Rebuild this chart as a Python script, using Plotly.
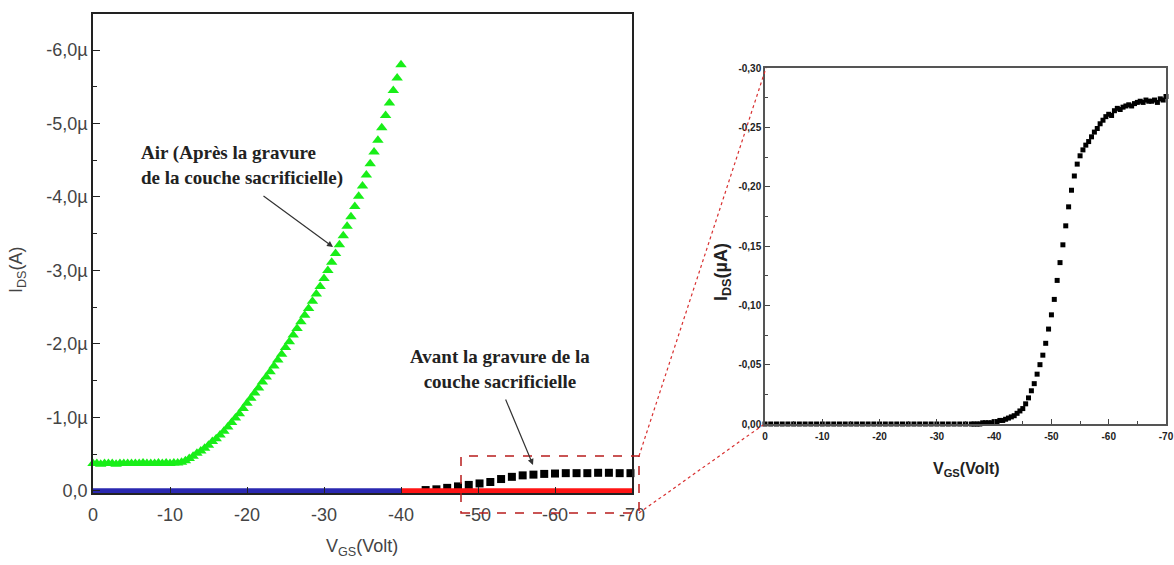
import plotly.graph_objects as go

W, H = 1174, 565

# Left panel: "Air" curve (green triangles), I_DS in µA
vgs_air = [0, -0.5, -1, -1.5, -2, -2.5, -3, -3.5, -4, -4.5, -5, -5.5, -6, -6.5, -7, -7.5, -8, -8.5, -9, -9.5,
           -10, -10.5, -11, -11.5, -12, -12.5, -13, -13.5, -14, -14.5, -15, -15.5, -16, -16.5, -17, -17.5,
           -18, -18.5, -19, -19.5, -20, -20.5, -21, -21.5, -22, -22.5, -23, -23.5, -24, -24.5, -25, -25.5,
           -26, -26.5, -27, -27.5, -28, -28.5, -29, -29.5, -30, -30.5, -31, -31.5, -32, -32.5, -33, -33.5,
           -34, -34.5, -35, -35.5, -36, -36.5, -37, -37.5, -38, -38.5, -39, -39.5, -40]
ids_air = [-0.37, -0.37, -0.36, -0.37, -0.37, -0.37, -0.36, -0.37, -0.37, -0.37, -0.37, -0.37, -0.37, -0.38,
           -0.37, -0.37, -0.37, -0.38, -0.37, -0.38, -0.37,
           -0.38, -0.38, -0.39, -0.41, -0.44, -0.47, -0.51, -0.54, -0.58, -0.62, -0.67, -0.71, -0.76, -0.81,
           -0.87, -0.93, -0.99, -1.05, -1.12, -1.19,
           -1.26, -1.33, -1.40, -1.48, -1.55, -1.62, -1.70, -1.78, -1.86, -1.95, -2.03, -2.12, -2.21, -2.30,
           -2.39, -2.48, -2.58, -2.68, -2.78, -2.89,
           -3.00, -3.11, -3.23, -3.35, -3.47, -3.60, -3.73, -3.87, -4.01, -4.15, -4.30, -4.45, -4.61, -4.77,
           -4.94, -5.11, -5.28, -5.45, -5.62, -5.80]

# Left panel: flat curves at zero (blue, red)
vgs_blue = [0, -40]
ids_blue = [0, 0]
vgs_red = [-40, -70]
ids_red = [0, 0]

# Left panel: "Avant" curve (black squares)
vgs_before = [-43.2, -44.6, -46.0, -47.4, -48.8, -50.2, -51.6, -53.0, -54.4, -55.8, -57.2, -58.6, -60.0,
              -61.4, -62.8, -64.2, -65.6, -67.0, -68.4, -69.8]
ids_before = [-0.01, -0.02, -0.04, -0.06, -0.08, -0.10, -0.12, -0.16, -0.19, -0.21, -0.22, -0.23, -0.235,
              -0.24, -0.24, -0.24, -0.245, -0.245, -0.24, -0.24]

# Right panel (zoom): same "Avant" curve
vgs_zoom = [0, -1, -2, -3, -4, -5, -6, -7, -8, -9, -10, -11, -12, -13, -14, -15, -16, -17, -18, -19, -20,
            -21, -22, -23, -24, -25, -26, -27, -28, -29, -30, -31, -32, -33, -34, -35, -36,
            -36.5, -37, -37.5, -38, -38.5, -39, -39.5, -40,
            -40.5, -41, -41.5, -42, -42.5, -43, -43.5, -44, -44.5, -45, -45.5, -46, -46.5, -47, -47.5, -48,
            -48.5, -49, -49.5, -50,
            -50.5, -51, -51.5, -52, -52.5, -53, -53.5, -54, -54.5, -55, -55.5, -56, -56.5, -57, -57.5, -58,
            -58.5, -59, -59.5, -60,
            -60.5, -61, -61.5, -62, -62.5, -63, -63.5, -64, -64.5, -65, -65.5, -66, -66.5, -67, -67.5, -68,
            -68.5, -69, -69.5, -70]
ids_zoom = [0.0, 0.0, 0.0, 0.0, 0.0, 0.0, 0.0, 0.0, 0.0, 0.0, 0.0, 0.0, 0.0, 0.0, 0.0, 0.0, 0.0, 0.0, 0.0,
            0.0, 0.0, 0.0, 0.0, 0.0, 0.0, 0.0, 0.0, 0.0, 0.0, 0.0, 0.0, 0.0, 0.0, 0.0, 0.0, 0.0, 0.0,
            0.0, 0.0, 0.0, -0.001, -0.001, -0.001, -0.001, -0.002,
            -0.002, -0.003, -0.003, -0.004, -0.005, -0.006, -0.007, -0.009, -0.011, -0.013, -0.017, -0.022,
            -0.028, -0.034, -0.042, -0.050, -0.058, -0.068, -0.080, -0.092,
            -0.105, -0.121, -0.136, -0.151, -0.167, -0.183, -0.197, -0.209, -0.219, -0.226, -0.231, -0.235,
            -0.238, -0.242, -0.246, -0.249, -0.253, -0.256, -0.259, -0.261,
            -0.260, -0.264, -0.266, -0.265, -0.267, -0.268, -0.269, -0.268, -0.270, -0.271, -0.272, -0.271,
            -0.273, -0.272, -0.272, -0.273, -0.271, -0.274, -0.273, -0.276]

x_ticks = [0, -10, -20, -30, -40, -50, -60, -70]
x_ticktext = ["0", "-10", "-20", "-30", "-40", "-50", "-60", "-70"]
y_left_ticks = [0, -1, -2, -3, -4, -5, -6]
y_left_ticktext = ["0,0", "-1,0µ", "-2,0µ", "-3,0µ", "-4,0µ", "-5,0µ", "-6,0µ"]
y_right_ticks = [0, -0.05, -0.10, -0.15, -0.20, -0.25, -0.30]
y_right_ticktext = ["0,00", "-0,05", "-0,10", "-0,15", "-0,20", "-0,25", "-0,30"]


def px(x):
    return x / W


def py(y):
    return 1 - y / H


fig = go.Figure()

fig.add_trace(go.Scatter(x=vgs_air, y=ids_air, mode="markers", xaxis="x", yaxis="y",
                         marker=dict(symbol="triangle-up", size=10, color="#18ee18"), cliponaxis=False))
fig.add_trace(go.Scatter(x=vgs_before, y=ids_before, mode="markers", xaxis="x", yaxis="y",
                         marker=dict(symbol="square", size=8, color="black"), cliponaxis=False))
fig.add_trace(go.Scatter(x=vgs_blue, y=ids_blue, mode="lines", xaxis="x", yaxis="y",
                         line=dict(color="#2a28b0", width=5)))
fig.add_trace(go.Scatter(x=vgs_red, y=ids_red, mode="lines", xaxis="x", yaxis="y",
                         line=dict(color="#ff1414", width=5)))
fig.add_trace(go.Scatter(x=vgs_zoom, y=ids_zoom, mode="markers", xaxis="x2", yaxis="y2",
                         marker=dict(symbol="square", size=5, color="black"), cliponaxis=False))

axis_common = dict(showgrid=False, zeroline=False, showline=True, mirror=True, ticks="inside",
                   automargin=False)

fig.update_layout(
    width=W, height=H,
    margin=dict(l=0, r=0, t=0, b=0, autoexpand=False),
    paper_bgcolor="white", plot_bgcolor="white",
    showlegend=False,
    xaxis=dict(axis_common, domain=[px(93), px(632)], range=[0, -70], anchor="y",
               tickmode="array", tickvals=x_ticks, ticktext=x_ticktext,
               ticklen=6, tickwidth=1.3, tickcolor="#222", linecolor="#222", linewidth=1.5,
               ticklabelstandoff=5,
               tickfont=dict(family="Liberation Sans, Arial", size=18, color="#444")),
    yaxis=dict(axis_common, domain=[py(493), py(14)], range=[0.03, -6.49], anchor="x",
               tickmode="array", tickvals=y_left_ticks, ticktext=y_left_ticktext,
               ticklen=7, tickwidth=1.3, tickcolor="#222", linecolor="#222", linewidth=1.5,
               minor=dict(ticks="inside", ticklen=4, tickcolor="#222",
                          tickvals=[-0.5, -1.5, -2.5, -3.5, -4.5, -5.5]),
               tickfont=dict(family="Liberation Sans, Arial", size=18, color="#444")),
    xaxis2=dict(axis_common, domain=[px(765), px(1166)], range=[0, -70], anchor="y2",
                tickmode="array", tickvals=x_ticks, ticktext=x_ticktext,
                ticklen=5, tickwidth=1.2, tickcolor="#444", linecolor="#555", linewidth=1.5,
                minor=dict(ticks="inside", ticklen=3, tickcolor="#444",
                           tickvals=[-5, -15, -25, -35, -45, -55, -65]),
                ticklabelstandoff=2,
                tickfont=dict(family="Liberation Sans, Arial", size=10, color="#222", weight="bold")),
    yaxis2=dict(axis_common, domain=[py(424), py(68)], range=[0, -0.30], anchor="x2",
                tickmode="array", tickvals=y_right_ticks, ticktext=y_right_ticktext,
                ticklen=5, tickwidth=1.2, tickcolor="#444", linecolor="#555", linewidth=1.5,
                minor=dict(ticks="inside", ticklen=3, tickcolor="#444",
                           tickvals=[-0.025, -0.075, -0.125, -0.175, -0.225, -0.275]),
                tickfont=dict(family="Liberation Sans, Arial", size=10, color="#222", weight="bold")),
)

# zoom box and connectors
fig.add_shape(type="rect", xref="paper", yref="paper", x0=px(461), x1=px(639), y0=py(513), y1=py(456),
              line=dict(color="#b81c1c", width=1.5, dash="dash"))
fig.add_shape(type="line", xref="paper", yref="paper", x0=px(639), y0=py(456), x1=px(766), y1=py(68),
              line=dict(color="#d83030", width=1.2, dash="dot"))
fig.add_shape(type="line", xref="paper", yref="paper", x0=px(639), y0=py(513), x1=px(763), y1=py(425),
              line=dict(color="#d83030", width=1.2, dash="dot"))

serif = dict(family="Liberation Serif, Times New Roman", size=19, color="#222", weight="bold")
sans = dict(family="Liberation Sans, Arial", size=18, color="#444")
sans_b = dict(family="Liberation Sans, Arial", size=16, color="#222", weight="bold")

annotations = [
    dict(x=px(139), y=py(165), text="Air (Après la gravure<br>de la couche sacrificielle)",
         xanchor="left", yanchor="middle", align="left", font=serif),
    dict(x=px(500), y=py(369), text="Avant la gravure de la<br>couche sacrificielle",
         xanchor="center", yanchor="middle", align="center", font=serif),
    dict(x=px(333), y=py(247), ax=-71, ay=-52, text="", showarrow=True, arrowhead=2,
         arrowsize=1, arrowwidth=1.2, arrowcolor="#333"),
    dict(x=px(533), y=py(465), ax=-28, ay=-67, text="", showarrow=True, arrowhead=2,
         arrowsize=1, arrowwidth=1.2, arrowcolor="#333"),
    dict(x=px(362), y=py(547), text="V<sub>GS</sub>(Volt)", xanchor="center", yanchor="middle", font=sans),
    dict(x=px(17), y=py(270), text="I<sub>DS</sub>(A)", textangle=-90, xanchor="center",
         yanchor="middle", font=sans),
    dict(x=px(966), y=py(469), text="V<sub>GS</sub>(Volt)", xanchor="center", yanchor="middle",
         font=sans_b),
    dict(x=px(722), y=py(272), text="I<sub>DS</sub>(µA)", textangle=-90, xanchor="center",
         yanchor="middle", font=dict(sans_b, size=18)),
]
for a in annotations:
    a.setdefault("xref", "paper")
    a.setdefault("yref", "paper")
    a.setdefault("showarrow", False)
    fig.add_annotation(**a)

# the page's default body margin would shift the figure by 8px
fig.write_html("out.html", config={"displayModeBar": False},
               post_script="document.body.style.margin='0';")
